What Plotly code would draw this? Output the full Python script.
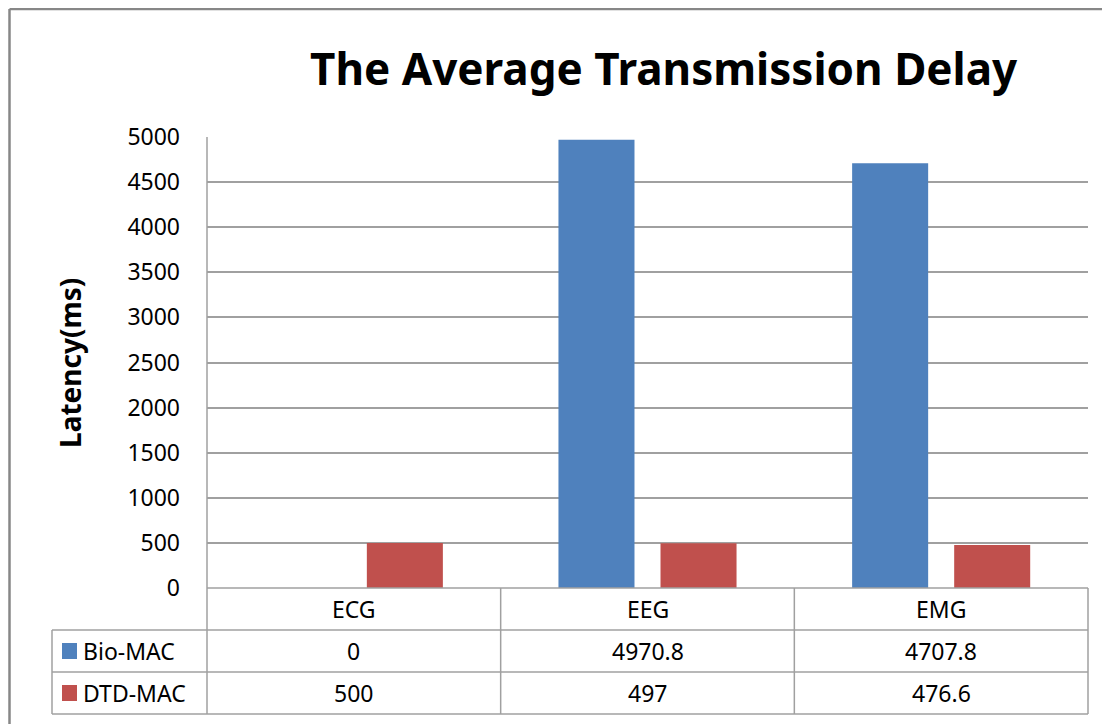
import plotly.graph_objects as go

categories = ["ECG", "EEG", "EMG"]
series_names = ["Bio-MAC", "DTD-MAC"]
bio_mac = [0, 4970.8, 4707.8]
dtd_mac = [500, 497, 476.6]
bio_labels = ["0", "4970.8", "4707.8"]
dtd_labels = ["500", "497", "476.6"]
y_ticks = [0, 500, 1000, 1500, 2000, 2500, 3000, 3500, 4000, 4500, 5000]
colors = ["#4F81BD", "#C0504D"]

OFF = 8  # page body margin offset
W, H = 1110 - OFF, 724 - OFF
L, R, T, B = 207 - OFF, 1088 - OFF, 137 - OFF, 588 - OFF
PW, PH = R - L, B - T
FONT = "Noto Sans"
GRID = "#A0A0A0"


def px(xp):
    return (xp - OFF - L) / PW


def py(yp):
    return (B - (yp - OFF)) / PH


fig = go.Figure()
for name, vals, col in zip(series_names, [bio_mac, dtd_mac], colors):
    fig.add_trace(go.Bar(x=categories, y=vals, name=name, marker_color=col,
                         marker_line_width=0))

shapes = []
annotations = []

# outer border (left and top edges; right/bottom fall outside the picture)
BORDER = dict(color="#878787", width=2.5)
shapes.append(dict(type="line", xref="paper", yref="paper", x0=px(9.5), x1=px(9.5),
                   y0=py(9), y1=py(724), line=BORDER))
shapes.append(dict(type="line", xref="paper", yref="paper", x0=px(9.5), x1=px(1110),
                   y0=py(9), y1=py(9), line=BORDER))

row_y = [588, 630, 672, 714]
# horizontal table lines
shapes.append(dict(type="line", xref="paper", yref="paper", x0=0, x1=1,
                   y0=py(row_y[0]), y1=py(row_y[0]), line=dict(color=GRID, width=1.5)))
for yy in row_y[1:]:
    shapes.append(dict(type="line", xref="paper", yref="paper", x0=px(52), x1=1,
                       y0=py(yy), y1=py(yy), line=dict(color=GRID, width=1.5)))
# vertical lines
shapes.append(dict(type="line", xref="paper", yref="paper", x0=0, x1=0,
                   y0=1, y1=py(row_y[-1]), line=dict(color=GRID, width=1.5)))
shapes.append(dict(type="line", xref="paper", yref="paper", x0=px(52), x1=px(52),
                   y0=py(row_y[1]), y1=py(row_y[-1]), line=dict(color=GRID, width=1.5)))
shapes.append(dict(type="line", xref="paper", yref="paper", x0=1, x1=1,
                   y0=0, y1=py(row_y[-1]), line=dict(color=GRID, width=1.5)))
for i in range(len(categories) - 1):
    xb = (i + 1) / len(categories)
    shapes.append(dict(type="line", xref="paper", yref="paper", x0=xb, x1=xb,
                       y0=0, y1=py(row_y[-1]), line=dict(color=GRID, width=1.5)))

cell_font = dict(family=FONT, size=23, color="#000000")
# category row and values
for i, cat in enumerate(categories):
    xc = (i + 0.5) / len(categories)
    for txt, r in [(cat, 0), (bio_labels[i], 1), (dtd_labels[i], 2)]:
        yc = (row_y[r] + row_y[r + 1]) / 2
        annotations.append(dict(text=txt, xref="paper", yref="paper", x=xc, y=py(yc),
                                xanchor="center", yanchor="middle", showarrow=False,
                                font=cell_font))

# legend keys in table
for r, (name, col) in enumerate(zip(series_names, colors)):
    yc = (row_y[r + 1] + row_y[r + 2]) / 2
    shapes.append(dict(type="rect", xref="paper", yref="paper", x0=px(62), x1=px(77),
                       y0=py(yc - 8), y1=py(yc + 8), fillcolor=col, line=dict(width=0)))
    annotations.append(dict(text=name, xref="paper", yref="paper", x=px(81), y=py(yc),
                            xanchor="left", yanchor="middle", showarrow=False,
                            font=cell_font))

# title
annotations.append(dict(text="<b>The Average Transmission Delay</b>", xref="paper",
                        yref="paper", x=px(664), y=py(68), xanchor="center",
                        yanchor="middle", showarrow=False,
                        font=dict(family=FONT, size=44, color="#000000")))
# y axis title
annotations.append(dict(text="<b>Latency(ms)</b>", xref="paper", yref="paper",
                        x=px(70), y=py(363), xanchor="center", yanchor="middle",
                        textangle=-90, showarrow=False,
                        font=dict(family=FONT, size=28, color="#000000")))

fig.update_layout(
    width=W, height=H,
    margin=dict(l=L, r=W - R, t=T, b=H - B, pad=0),
    paper_bgcolor="white", plot_bgcolor="white",
    showlegend=False,
    barmode="group", bargap=0.305, bargroupgap=0.255,
    shapes=shapes, annotations=annotations,
    xaxis=dict(showticklabels=False, showgrid=False, zeroline=False, showline=False,
               ticks="", range=[-0.5, 2.5]),
    yaxis=dict(range=[0, 5000], tickvals=y_ticks, showgrid=True, gridcolor=GRID,
               gridwidth=1.5, zeroline=False, showline=False, ticks="",
               ticklabelstandoff=26,
               tickfont=dict(family=FONT, size=23, color="#000000")),
    font=dict(family=FONT),
)

fig.write_html("out.html")
